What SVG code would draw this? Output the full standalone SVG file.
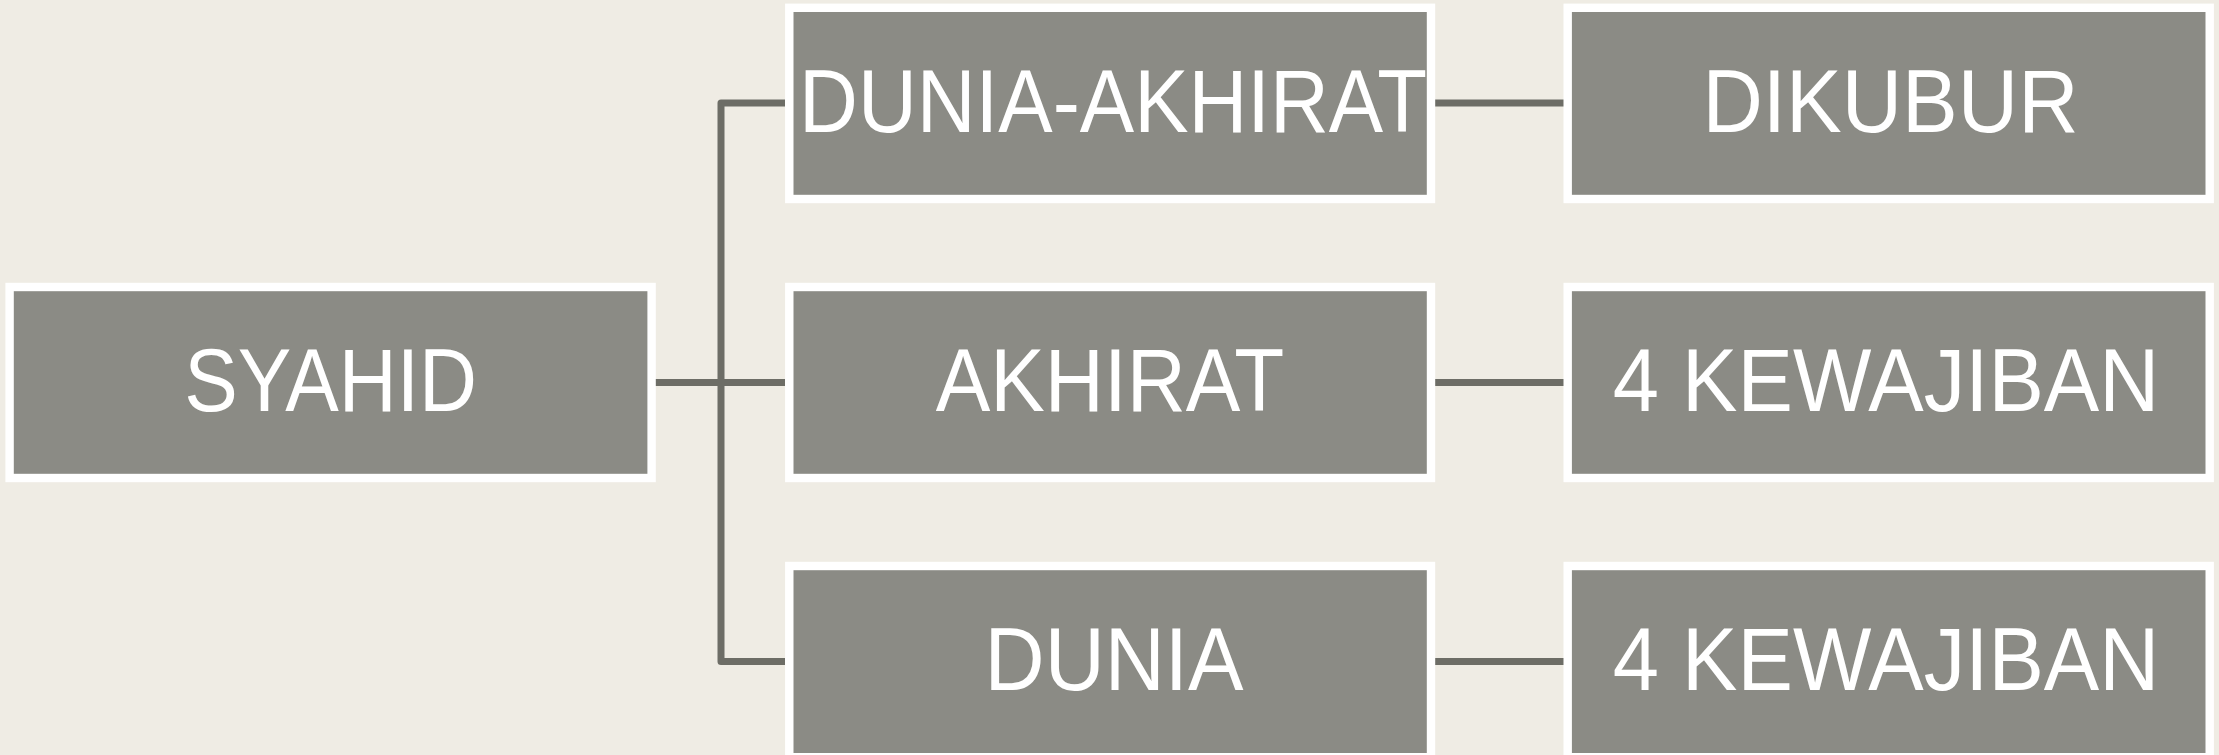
<svg xmlns="http://www.w3.org/2000/svg" width="2219" height="755" viewBox="0 0 2219 755">
<style>
.box{fill:#8b8b85;stroke:#ffffff;stroke-width:8.4}
.lbl{font-family:"Liberation Sans",Arial,sans-serif;font-size:89px;fill:#ffffff;text-anchor:middle}
.conn{fill:none;stroke:#6d6d66;stroke-width:7;stroke-linejoin:round}
</style>
<rect x="0" y="0" width="2219" height="755" fill="#efece4"/>
<g id="connectors">
<path class="conn" d="M785 103 H721 V661.5 H785"/>
<path class="conn" d="M655 382.5 H785"/>
<path class="conn" d="M1435 103 H1564"/>
<path class="conn" d="M1435 382.5 H1564"/>
<path class="conn" d="M1435 661.5 H1564"/>
</g>
<g id="syahid">
<rect class="box" x="9.6" y="287" width="642" height="191"/>
<text class="lbl" transform="translate(330.6 411) scale(0.902 1)">SYAHID</text>
</g>
<g id="dunia-akhirat">
<rect class="box" x="789.3" y="7.8" width="641.7" height="191.2"/>
<text class="lbl" transform="translate(1113 132) scale(0.916 1)">DUNIA-AKHIRAT</text>
</g>
<g id="akhirat">
<rect class="box" x="789.3" y="287" width="641.7" height="191"/>
<text class="lbl" transform="translate(1110 411) scale(0.92 1)">AKHIRAT</text>
</g>
<g id="dunia">
<rect class="box" x="789.3" y="566" width="641.7" height="191.2"/>
<text class="lbl" transform="translate(1114 690) scale(0.935 1)">DUNIA</text>
</g>
<g id="dikubur">
<rect class="box" x="1567.7" y="7.8" width="642" height="191.2"/>
<text class="lbl" transform="translate(1890.5 132) scale(0.939 1)">DIKUBUR</text>
</g>
<g id="kewajiban-1">
<rect class="box" x="1567.7" y="287" width="642" height="191"/>
<text class="lbl" transform="translate(1886 411) scale(0.934 1)">4 KEWAJIBAN</text>
</g>
<g id="kewajiban-2">
<rect class="box" x="1567.7" y="566" width="642" height="191.2"/>
<text class="lbl" transform="translate(1886 690) scale(0.934 1)">4 KEWAJIBAN</text>
</g>
</svg>
